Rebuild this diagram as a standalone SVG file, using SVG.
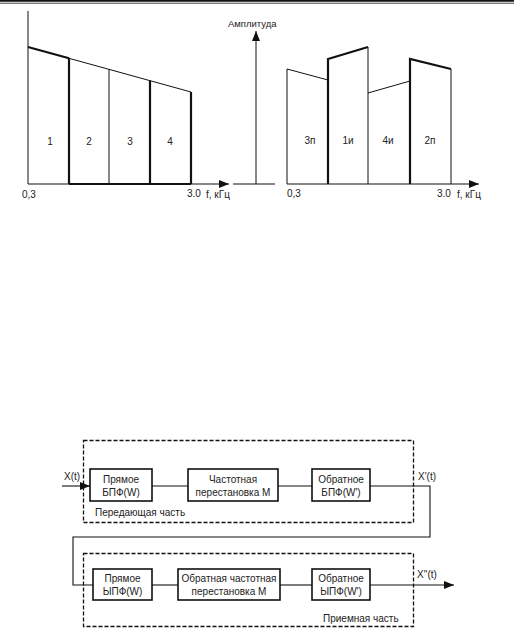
<svg xmlns="http://www.w3.org/2000/svg" width="514" height="637" viewBox="0 0 514 637">
<defs>
<style>
text{font-family:"Liberation Sans",Arial,sans-serif;font-size:10px;fill:#222}
.t{stroke:#111;stroke-width:1;fill:none}
.k{stroke:#111;stroke-width:2.2;fill:none}
.box{stroke:#111;stroke-width:1.6;fill:#fff}
.dash{stroke:#111;stroke-width:1.3;fill:none;stroke-dasharray:4 2}
.c{stroke:#111;stroke-width:1.1;fill:none}
.m{text-anchor:middle}
</style>
<marker id="ah" viewBox="0 0 10 8" refX="10" refY="4" markerWidth="10" markerHeight="8" markerUnits="userSpaceOnUse" orient="auto">
<path d="M0,0 L10,4 L0,8 Z" fill="#111"/>
</marker>
</defs>
<rect width="514" height="637" fill="#fff"/>
<!-- header lines -->
<line x1="0" y1="0.8" x2="514" y2="0.8" stroke="#111" stroke-width="1.8"/>
<line x1="0" y1="3.2" x2="514" y2="3.2" stroke="#111" stroke-width="0.8"/>

<g id="chart-left">
<line class="t" x1="28" y1="11" x2="28" y2="184"/>
<line class="t" x1="28" y1="184" x2="229" y2="184" marker-end="url(#ah)"/>
<polyline class="k" points="28,47 69,58.3"/>
<polyline class="t" points="69,58.3 191,92"/>
<line class="k" x1="69" y1="58.3" x2="69" y2="184"/>
<line class="t" x1="109" y1="69.4" x2="109" y2="184"/>
<line class="k" x1="150" y1="80.7" x2="150" y2="184"/>
<line class="k" x1="191" y1="92" x2="191" y2="184"/>
<line class="k" x1="69" y1="184" x2="191" y2="184"/>
<text class="m" x="50" y="145">1</text>
<text class="m" x="89" y="145">2</text>
<text class="m" x="130" y="145">3</text>
<text class="m" x="170" y="145">4</text>
<text x="22" y="198">0,3</text>
<text x="187" y="197">3.0</text>
<text x="206" y="198">f, кГц</text>
</g>

<g id="chart-right">
<line class="t" x1="233" y1="184" x2="275" y2="184"/>
<line class="t" x1="256" y1="184" x2="256" y2="31" marker-end="url(#ah)"/>
<text x="228" y="27" style="font-size:9.5px">Амплитуда</text>
<line class="t" x1="287" y1="184" x2="479" y2="184" marker-end="url(#ah)"/>
<polyline class="t" points="287,184 287,69 328,80"/>
<polyline class="k" points="328,184 328,59 368,47"/>
<line class="t" x1="368" y1="47" x2="368" y2="184"/>
<polyline class="t" points="368,93 410,81"/>
<polyline class="k" points="410,184 410,59 451,69"/>
<line class="t" x1="451" y1="69" x2="451" y2="184"/>
<text class="m" x="310" y="144">3п</text>
<text class="m" x="348" y="144">1и</text>
<text class="m" x="388" y="144">4и</text>
<text class="m" x="430" y="144">2п</text>
<text x="287" y="197">0,3</text>
<text x="437" y="197">3.0</text>
<text x="457" y="198">f, кГц</text>
</g>

<g id="tx-part">
<rect class="dash" x="83.5" y="440.5" width="330" height="82"/>
<text x="95" y="516">Передающая часть</text>
</g>
<g id="rx-part">
<rect class="dash" x="83.5" y="553.5" width="330" height="73"/>
<text x="323" y="622">Приемная часть</text>
</g>

<g id="connectors">
<line class="c" x1="62" y1="486" x2="90" y2="486" marker-end="url(#ah)"/>
<line class="c" x1="152" y1="486" x2="188" y2="486"/>
<line class="c" x1="278" y1="486" x2="312" y2="486"/>
<polyline class="c" points="370,486 430,486 430,537 73,537 73,585 93,585"/>
<line class="c" x1="152" y1="585" x2="178" y2="585"/>
<line class="c" x1="280" y1="585" x2="312" y2="585"/>
<line class="c" x1="370" y1="585" x2="454" y2="585" marker-end="url(#ah)"/>
<text x="64" y="480">X(t)</text>
<text x="418" y="480">X'(t)</text>
<text x="417" y="578">X''(t)</text>
</g>

<g id="b1">
<rect class="box" x="90" y="469" width="62" height="32"/>
<text class="m" x="121" y="483">Прямое</text>
<text class="m" x="121" y="496">БПФ(W)</text>
</g>
<g id="b2">
<rect class="box" x="188" y="469" width="90" height="32"/>
<text class="m" x="233" y="483">Частотная</text>
<text class="m" x="233" y="496">перестановка М</text>
</g>
<g id="b3">
<rect class="box" x="312" y="469" width="58" height="32"/>
<text class="m" x="341" y="483">Обратное</text>
<text class="m" x="341" y="496">БПФ(W')</text>
</g>
<g id="b4">
<rect class="box" x="93" y="569" width="59" height="31"/>
<text class="m" x="122.5" y="582">Прямое</text>
<text class="m" x="122.5" y="595">ЫПФ(W)</text>
</g>
<g id="b5">
<rect class="box" x="178" y="569" width="102" height="31"/>
<text class="m" x="229" y="582">Обратная частотная</text>
<text class="m" x="229" y="595">перестановка М</text>
</g>
<g id="b6">
<rect class="box" x="312" y="569" width="58" height="31"/>
<text class="m" x="341" y="582">Обратное</text>
<text class="m" x="341" y="595">ЫПФ(W')</text>
</g>
</svg>
